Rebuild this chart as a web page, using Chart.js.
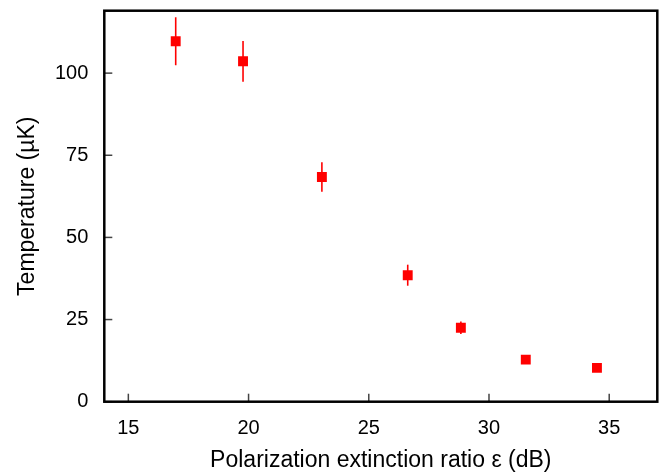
<!DOCTYPE html>
<html>
<head>
<meta charset="utf-8">
<script src="https://cdn.jsdelivr.net/npm/chart.js@4/dist/chart.umd.min.js"></script>
<style>
  html, body { margin: 0; padding: 0; background: #fff; }
  #wrap { width: 666px; height: 473px; }
</style>
</head>
<body>
<div id="wrap"><canvas id="c" width="666" height="473"></canvas></div>
<script>
// Data
const extinctionRatio = [16.97, 19.77, 23.05, 26.62, 28.83, 31.53, 34.49];
const temperature     = [109.7, 103.6, 68.4, 38.5, 22.5, 12.8, 10.3];
const tempError       = [7.3, 6.2, 4.5, 3.2, 1.9, 0.8, 0.8];
const xTickValues = [15, 20, 25, 30, 35];
const yTickValues = [0, 25, 50, 75, 100];

const points = extinctionRatio.map((x, i) => ({ x: x, y: temperature[i] }));

const TICK_FONT = { family: '"Liberation Sans", Arial, Helvetica, sans-serif', size: 20 };
const TITLE_FONT = { family: '"Liberation Sans", Arial, Helvetica, sans-serif', size: 23 };

const errorBarPlugin = {
  id: 'errorBars',
  beforeDatasetsDraw(chart) {
    const ctx = chart.ctx;
    const xs = chart.scales.x, ys = chart.scales.y;
    ctx.save();
    ctx.strokeStyle = '#ff0000';
    ctx.lineWidth = 1.6;
    extinctionRatio.forEach((x, i) => {
      const px = xs.getPixelForValue(x);
      ctx.beginPath();
      ctx.moveTo(px, ys.getPixelForValue(temperature[i] + tempError[i]));
      ctx.lineTo(px, ys.getPixelForValue(temperature[i] - tempError[i]));
      ctx.stroke();
    });
    ctx.restore();
  }
};

const framePlugin = {
  id: 'frame',
  afterDraw(chart) {
    const ctx = chart.ctx;
    const a = chart.chartArea;
    const xs = chart.scales.x, ys = chart.scales.y;
    ctx.save();
    ctx.strokeStyle = '#444';
    ctx.lineWidth = 1.5;
    xs.ticks.forEach((t, i) => {
      const px = xs.getPixelForTick(i);
      ctx.beginPath();
      ctx.moveTo(px, a.bottom);
      ctx.lineTo(px, a.bottom - 8);
      ctx.stroke();
    });
    ys.ticks.forEach((t, i) => {
      const py = ys.getPixelForTick(i);
      ctx.beginPath();
      ctx.moveTo(a.left, py);
      ctx.lineTo(a.left + 8, py);
      ctx.stroke();
    });
    ctx.strokeStyle = '#000';
    ctx.lineWidth = 2.5;
    ctx.strokeRect(a.left, a.top, a.right - a.left, a.bottom - a.top);
    ctx.restore();
  }
};

new Chart(document.getElementById('c'), {
  type: 'scatter',
  data: {
    datasets: [{
      data: points,
      pointStyle: 'rect',
      pointRadius: 7,
      pointHoverRadius: 7,
      pointBorderWidth: 0,
      backgroundColor: '#ff0000',
      borderColor: '#ff0000',
      showLine: false
    }]
  },
  options: {
    responsive: false,
    animation: false,
    devicePixelRatio: 1,
    layout: { padding: { left: 0, top: 10.7, right: 8.7, bottom: 0 } },
    plugins: { legend: { display: false }, tooltip: { enabled: false } },
    scales: {
      x: {
        type: 'linear',
        min: 14, max: 37,
        grid: { display: false },
        border: { display: false },
        afterBuildTicks: s => { s.ticks = xTickValues.map(v => ({ value: v })); },
        afterFit: s => { s.height = 71.3; s.paddingLeft = 0; s.paddingRight = 0; },
        ticks: {
          color: '#000',
          padding: 7,
          font: TICK_FONT,
          maxRotation: 0
        },
        title: {
          display: true,
          text: 'Polarization extinction ratio ε (dB)',
          color: '#000',
          font: TITLE_FONT,
          padding: { top: 0, bottom: -1.5 }
        }
      },
      y: {
        type: 'linear',
        min: 0, max: 119,
        grid: { display: false },
        border: { display: false },
        afterBuildTicks: s => { s.ticks = yTickValues.map(v => ({ value: v })); },
        afterFit: s => { s.width = 104.3; s.paddingTop = 0; s.paddingBottom = 0; },
        ticks: {
          color: '#000',
          padding: 8,
          font: TICK_FONT
        },
        title: {
          display: true,
          text: 'Temperature (µK)',
          color: '#000',
          font: TITLE_FONT,
          padding: { top: 14, bottom: 0 }
        }
      }
    }
  },
  plugins: [errorBarPlugin, framePlugin]
});
</script>
</body>
</html>
